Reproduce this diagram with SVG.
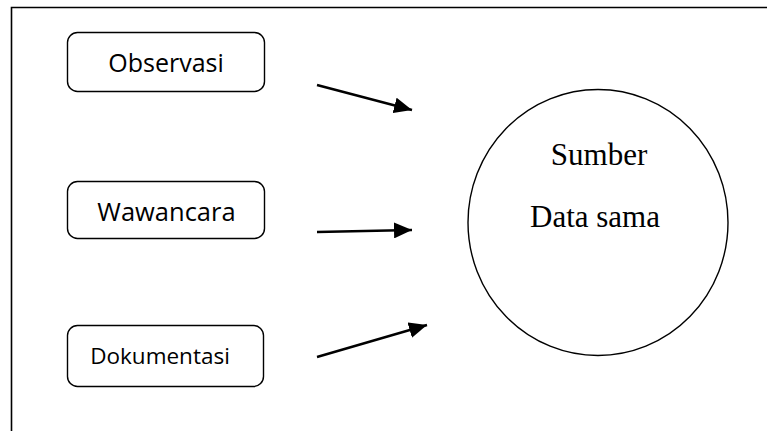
<svg xmlns="http://www.w3.org/2000/svg" width="767" height="431" viewBox="0 0 767 431">
  <defs>
    <style>
      .box { fill: #fff; stroke: #000; stroke-width: 1.4; }
      .lbl { font-family: "Open Sans", "Noto Sans", sans-serif; fill: #000; text-anchor: middle; }
      .serif { font-family: "Liberation Serif", "Times New Roman", serif; fill: #000; text-anchor: middle; font-size: 31px; }
      .conn { stroke: #000; stroke-width: 2.4; fill: none; marker-end: url(#arrow); }
      .frame { stroke: #000; stroke-width: 1.6; fill: none; }
    </style>
    <marker id="arrow" markerUnits="userSpaceOnUse" markerWidth="19" markerHeight="16" refX="18" refY="8" orient="auto">
      <path d="M0,0 L18,8 L0,16 Z" fill="#000"/>
    </marker>
  </defs>
  <rect width="767" height="431" fill="#fff"/>
  <path class="frame" d="M11.5,431 L11.5,7.5 L767,7.5"/>

  <g id="observasi">
    <rect class="box" x="67.5" y="32.5" width="197" height="59" rx="10"/>
    <text class="lbl" x="166" y="72" font-size="25">Observasi</text>
  </g>
  <g id="wawancara">
    <rect class="box" x="67.5" y="181.5" width="197" height="57" rx="10"/>
    <text class="lbl" x="166.5" y="221" font-size="25.5">Wawancara</text>
  </g>
  <g id="dokumentasi">
    <rect class="box" x="67.5" y="325.5" width="196" height="61" rx="10"/>
    <text class="lbl" x="160" y="364" font-size="22.5">Dokumentasi</text>
  </g>
  <g id="sumber">
    <ellipse class="box" cx="598" cy="222.5" rx="130" ry="133"/>
    <text class="serif" x="599" y="165">Sumber</text>
    <text class="serif" x="595" y="227">Data sama</text>
  </g>

  <g id="connectors">
    <line class="conn" x1="317" y1="85" x2="412" y2="110"/>
    <line class="conn" x1="317" y1="232" x2="412" y2="230"/>
    <line class="conn" x1="317" y1="357" x2="427" y2="325"/>
  </g>
</svg>
